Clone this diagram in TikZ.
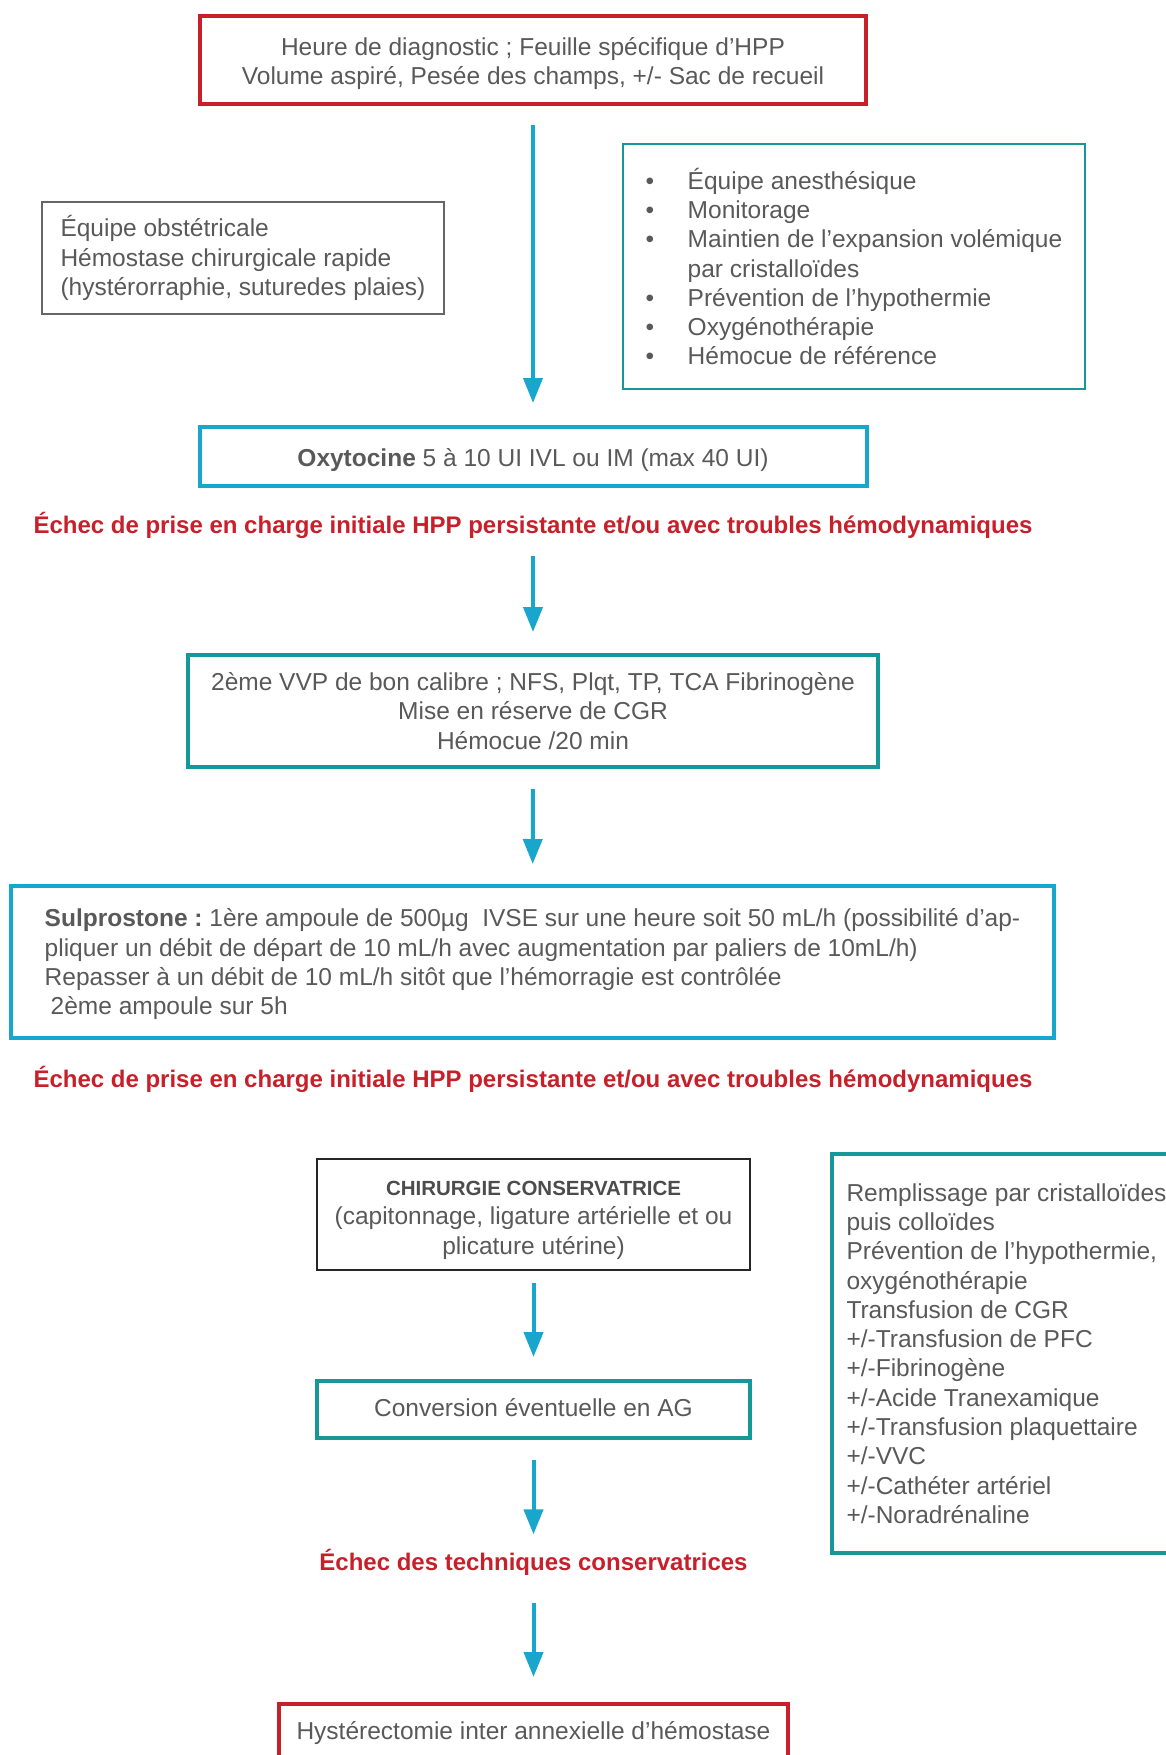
\documentclass[tikz,border=0pt]{standalone}
\usepackage{fontspec}
\setmainfont{Liberation Sans}
\usetikzlibrary{arrows.meta}
\definecolor{hppred}{RGB}{200,32,42}
\definecolor{hppcyan}{RGB}{24,166,205}
\definecolor{hppteal}{RGB}{22,152,152}
\definecolor{hppgray}{RGB}{89,89,89}
\newcommand{\hppbul}{\makebox[42pt][l]{•}}
\frenchspacing
\begin{document}
\begin{tikzpicture}[x=1pt,y=-1pt,
  every node/.style={text=hppgray,font=\fontsize{24.5}{29.3}\selectfont},
  box/.style={draw,outer sep=0pt,inner sep=0pt,align=center},
  redbox/.style={box,draw=hppred,line width=4pt},
  cyanbox/.style={box,draw=hppcyan,line width=4pt},
  tealbox/.style={box,draw=hppteal,line width=4pt},
  greybox/.style={box,line width=2.5pt},
  alert/.style={text=hppred,outer sep=0pt,inner sep=0pt,
    font=\fontsize{24}{29}\selectfont\bfseries},
  flow/.style={draw=hppcyan,line width=4pt,-{Triangle[width=19pt,length=25pt]}}
]
\useasboundingbox (0,0) rectangle (1166,1755);
\clip (0,0) rectangle (1166,1755);
\node[redbox,minimum width=666pt,minimum height=88pt] (diag) at (533,60)
  {\rule{0pt}{25pt}Heure de diagnostic ; Feuille spécifique d’HPP\\
   Volume aspiré, Pesée des champs, +/- Sac de recueil};
\node[greybox,draw=black!60,minimum width=402pt,minimum height=112pt,align=left] (obst) at (243,258)
  {Équipe obstétricale\\
   Hémostase chirurgicale rapide\\
   (hystérorraphie, suturedes plaies)};
\node[box,draw=hppteal,line width=2.5pt,minimum width=462pt,minimum height=245pt,align=left] (anesth) at (854,266.5)
  {\hppbul Équipe anesthésique\\
   \hppbul Monitorage\\
   \hppbul Maintien de l’expansion volémique\\
   \hspace*{42pt}par cristalloïdes\\
   \hppbul Prévention de l’hypothermie\\
   \hppbul Oxygénothérapie\\
   \hppbul Hémocue de référence};
\node[cyanbox,minimum width=667pt,minimum height=59pt] (oxy) at (533,456.5)
  {\rule{0pt}{25pt}\textbf{Oxytocine} 5 à 10 UI IVL ou IM (max 40 UI)};
\node[alert] (fail1) at (533,525)
  {Échec de prise en charge initiale HPP persistante et/ou avec troubles hémodynamiques};
\node[tealbox,minimum width=690pt,minimum height=112pt] (vvp) at (533,711)
  {2ème VVP de bon calibre ; NFS, Plqt, TP, TCA Fibrinogène\\
   Mise en réserve de CGR\\
   Hémocue /20 min};
\node[cyanbox,minimum width=1043pt,minimum height=152pt,align=left] (sulpro) at (532.5,962)
  {\rule{0pt}{22.5pt}\textbf{Sulprostone :} 1ère ampoule de 500µg~ IVSE sur une heure soit 50 mL/h (possibilité d’ap-\\
   pliquer un débit de départ de 10 mL/h avec augmentation par paliers de 10mL/h)\\
   Repasser à un débit de 10 mL/h sitôt que l’hémorragie est contrôlée\\
   \hspace*{6pt}2ème ampoule sur 5h};
\node[alert] (fail2) at (533,1079)
  {Échec de prise en charge initiale HPP persistante et/ou avec troubles hémodynamiques};
\node[greybox,draw=black!85,minimum width=433pt,minimum height=111pt] (chir) at (533.5,1214.5)
  {\rule{0pt}{26pt}{\fontsize{20.5}{24}\selectfont\bfseries\color{black!70} CHIRURGIE CONSERVATRICE}\\
   (capitonnage, ligature artérielle et ou\\
   plicature utérine)};
\node[tealbox,minimum width=349pt,minimum height=399pt,align=left] (reanim) at (1006.5,1353.5)
  {Remplissage par cristalloïdes\\
   puis colloïdes\\
   Prévention de l’hypothermie,\\
   oxygénothérapie\\
   Transfusion de CGR\\
   +/-Transfusion de PFC\\
   +/-Fibrinogène\\
   +/-Acide Tranexamique\\
   +/-Transfusion plaquettaire\\
   +/-VVC\\
   +/-Cathéter artériel\\
   +/-Noradrénaline};
\node[tealbox,minimum width=433pt,minimum height=57pt] (ag) at (533.5,1409.5)
  {\rule[-4.5pt]{0pt}{0pt}Conversion éventuelle en AG};
\node[alert] (fail3) at (533.5,1562) {Échec des techniques conservatrices};
\node[redbox,minimum width=509pt,minimum height=58pt] (hyst) at (533.5,1733)
  {Hystérectomie inter annexielle d’hémostase};
\draw[flow,shorten <=21pt,shorten >=24pt] (diag) -- (oxy);
\draw[flow,shorten <=17.5pt,shorten >=23pt] (fail1) -- (vvp);
\draw[flow,shorten <=22pt,shorten >=22pt] (vvp) -- (sulpro);
\draw[flow,shorten <=13pt,shorten >=24pt] (chir) -- (ag);
\draw[flow,shorten <=22pt,shorten >=14.5pt] (ag) -- (fail3);
\draw[flow,shorten <=27.5pt,shorten >=27pt] (fail3) -- (hyst);
\end{tikzpicture}
\end{document}
